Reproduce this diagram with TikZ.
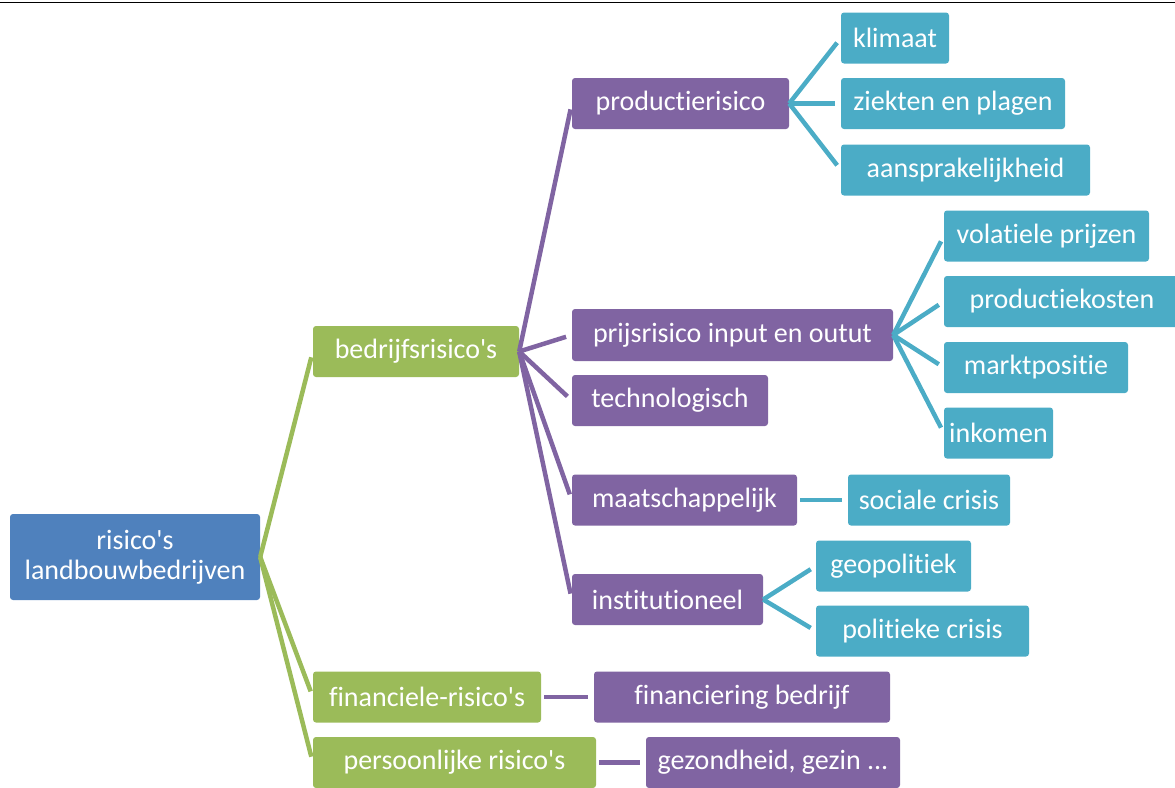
\documentclass[tikz,border=0pt]{standalone}
\usepackage{fontspec}
\setmainfont{Carlito}[Ligatures={TeXOff,CommonOff}]

\definecolor{rootblue}{HTML}{4F81BD}
\definecolor{levelgreen}{HTML}{9BBB59}
\definecolor{levelpurple}{HTML}{8064A2}
\definecolor{leafteal}{HTML}{4BACC6}

\tikzset{
  riskbox/.style={rounded corners=3pt, text=white, minimum height=51pt, inner sep=0pt,
    align=center, font=\fontsize{28}{30}\selectfont},
  rootbox/.style={riskbox, fill=rootblue},
  greenbox/.style={riskbox, fill=levelgreen},
  purplebox/.style={riskbox, fill=levelpurple},
  tealbox/.style={riskbox, fill=leafteal},
  link/.style={line width=4.5pt, shorten >=6pt},
  greenlink/.style={link, levelgreen},
  purplelink/.style={link, levelpurple},
  teallink/.style={link, leafteal},
  single/.style={shorten <=3pt}
}

\begin{document}
\begin{tikzpicture}[x=1pt, y=-1pt]
  \useasboundingbox (0,0) rectangle (1175,787);
  \draw[line width=1.5pt] (0,2.5) -- (1175,2.5);

  % 1. Root and main groups
  \node[rootbox, minimum width=250pt, minimum height=86pt] (root) at (135,557) {risico's\\landbouwbedrijven};
  \node[greenbox, minimum width=206pt] (bedr) at (416,351.5) {bedrijfsrisico's};
  \node[greenbox, minimum width=228pt] (fin) at (427,697) {financiele-risico's};
  \node[greenbox, minimum width=283pt] (pers) at (454.5,762.5) {persoonlijke risico's};

  % 2. Second level
  \node[purplebox, minimum width=217pt] (prod) at (680.5,103.5) {productierisico};
  \node[purplebox, minimum width=321pt, minimum height=52pt] (prijs) at (732.5,335) {prijsrisico input en outut};
  \node[purplebox, minimum width=196pt] (tech) at (670,400.5) {technologisch};
  \node[purplebox, minimum width=225pt] (maat) at (684.5,500) {maatschappelijk};
  \node[purplebox, minimum width=191pt] (inst) at (667.5,599.5) {institutioneel};
  \node[purplebox, minimum width=296pt] (finb) at (742,697) {financiering bedrijf};
  \node[purplebox, minimum width=254pt] (gez) at (773,762.5) {gezondheid, gezin ...};

  % 3. Leaves
  \node[tealbox, minimum width=108pt] (klim) at (895,38) {klimaat};
  \node[tealbox, minimum width=224pt] (ziek) at (953,103.5) {ziekten en plagen};
  \node[tealbox, minimum width=249pt] (aans) at (965.5,170) {aansprakelijkheid};
  \node[tealbox, minimum width=205pt] (vola) at (1046.5,236) {volatiele prijzen};
  \node[tealbox, minimum width=236pt] (prodk) at (1062,301.5) {productiekosten};
  \node[tealbox, minimum width=184pt] (mark) at (1036,367.5) {marktpositie};
  \node[tealbox, minimum width=109pt] (inko) at (998.5,433) {inkomen};
  \node[tealbox, minimum width=162pt] (soc) at (929,500) {sociale crisis};
  \node[tealbox, minimum width=155pt] (geo) at (893.5,566) {geopolitiek};
  \node[tealbox, minimum width=213pt] (pol) at (922.5,631) {politieke crisis};

  % 4. Connectors
  \foreach \c in {bedr,fin,pers}
    \draw[greenlink] (root.east) -- (\c.west);
  \foreach \c in {prod,prijs,tech,maat,inst}
    \draw[purplelink] (bedr.east) -- (\c.west);
  \foreach \c in {klim,ziek,aans}
    \draw[teallink] (prod.east) -- (\c.west);
  \foreach \c in {vola,prodk,mark,inko}
    \draw[teallink] (prijs.east) -- (\c.west);
  \foreach \c in {geo,pol}
    \draw[teallink] (inst.east) -- (\c.west);
  \draw[teallink, single] (maat) -- (soc);
  \draw[purplelink, single] (fin) -- (finb);
  \draw[purplelink, single] (pers) -- (gez);
\end{tikzpicture}
\end{document}
